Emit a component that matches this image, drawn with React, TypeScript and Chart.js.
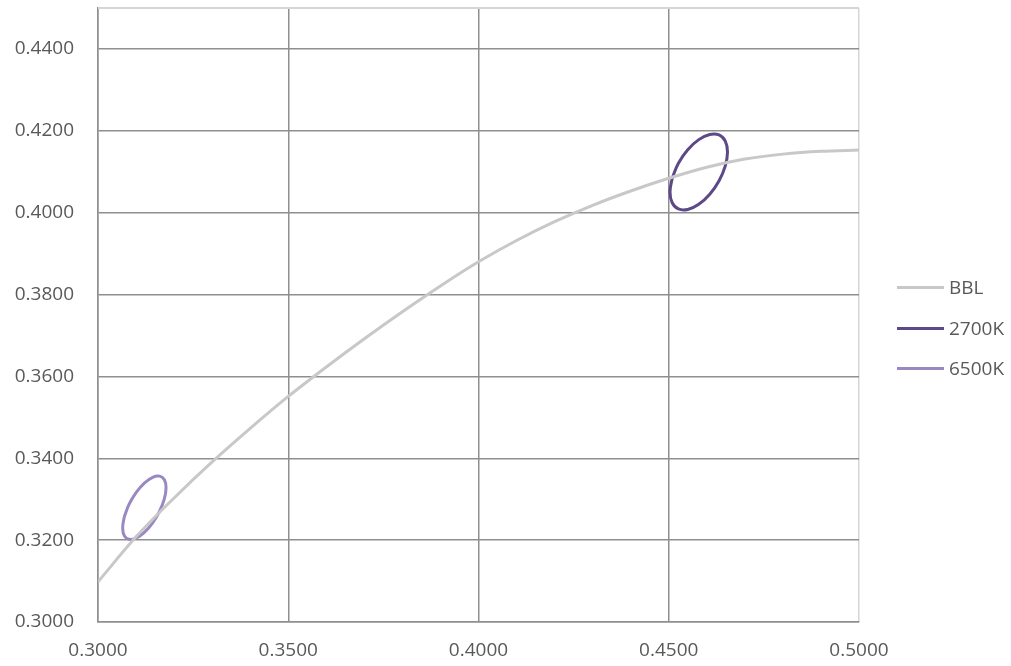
import React, { useEffect, useRef } from "react";
import { Chart, registerables } from "chart.js";

Chart.register(...registerables);

// Black-body locus (BBL)
const bblX = [
  0.3, 0.31, 0.32, 0.33, 0.34, 0.35, 0.36, 0.37, 0.38, 0.39, 0.4,
  0.41, 0.42, 0.43, 0.44, 0.45, 0.46, 0.47, 0.48, 0.49, 0.5,
];
const bblY = [
  0.3098, 0.3208, 0.3303, 0.3391, 0.3473, 0.3551, 0.3623, 0.3692, 0.3758, 0.3821, 0.388,
  0.3932, 0.3978, 0.4018, 0.4053, 0.4084, 0.4111, 0.4131, 0.4143, 0.415, 0.4153,
];

// 2700K ellipse outline (closed)
const k2700X = [
  0.45091, 0.45254, 0.45499, 0.45789, 0.46078, 0.46323, 0.46486, 0.46544, 0.46486,
  0.46323, 0.46078, 0.45789, 0.45499, 0.45254, 0.45091, 0.45033, 0.45091,
];
const k2700Y = [
  0.40845, 0.41207, 0.41537, 0.41784, 0.41911, 0.41898, 0.41747, 0.41483, 0.41144,
  0.40782, 0.40452, 0.40205, 0.40078, 0.4009, 0.40242, 0.40506, 0.40845,
];

// 6500K ellipse outline (closed)
const k6500X = [
  0.30691, 0.30815, 0.31, 0.31218, 0.31436, 0.31621, 0.31745, 0.31788, 0.31745,
  0.31621, 0.31436, 0.31218, 0.31, 0.30815, 0.30691, 0.30648, 0.30691,
];
const k6500Y = [
  0.32571, 0.32872, 0.33161, 0.33394, 0.33535, 0.33563, 0.33474, 0.3328, 0.33012,
  0.32711, 0.32422, 0.32189, 0.32048, 0.3202, 0.32109, 0.32303, 0.32571,
];

const seriesNames = ["BBL", "2700K", "6500K"];
const seriesColors = ["#c8c8c8", "#5d4888", "#9a88c0"];

const xTicks = [0.3, 0.35, 0.4, 0.45, 0.5];
const yTicks = [0.3, 0.32, 0.34, 0.36, 0.38, 0.4, 0.42, 0.44];

const FONT = { family: "'Open Sans', sans-serif", size: 19 };
const TEXT = "#595959";
const GRID = "#8f8f8f";
const FRAME = "#d6d6d6";

export default function App() {
  const ref = useRef<HTMLCanvasElement>(null);

  useEffect(() => {
    const toPts = (xs: number[], ys: number[]) => xs.map((x, i) => ({ x, y: ys[i] }));
    const series = [toPts(bblX, bblY), toPts(k2700X, k2700Y), toPts(k6500X, k6500Y)];

    const framePlugin = {
      id: "frame",
      beforeDatasetsDraw(chart: any) {
        const { ctx, chartArea } = chart;
        ctx.save();
        ctx.strokeStyle = FRAME;
        ctx.lineWidth = 2;
        ctx.beginPath();
        ctx.moveTo(chartArea.left, chartArea.top);
        ctx.lineTo(chartArea.right, chartArea.top);
        ctx.stroke();
        ctx.restore();
      },
    };

    const chart = new Chart(ref.current!, {
      type: "scatter",
      data: {
        datasets: series.map((data, i) => ({
          label: seriesNames[i],
          data,
          showLine: true,
          borderColor: seriesColors[i],
          backgroundColor: seriesColors[i],
          borderWidth: 3,
          pointRadius: 0,
          tension: 0.4,
          cubicInterpolationMode: i === 0 ? "monotone" : "default",
          fill: false,
        })),
      },
      options: {
        animation: false,
        responsive: false,
        layout: { padding: { top: 8, right: 152, left: 0, bottom: 0 } },
        plugins: { legend: { display: false }, tooltip: { enabled: false } },
        scales: {
          x: {
            type: "linear",
            min: 0.3,
            max: 0.5,
            afterBuildTicks: (s: any) => {
              s.ticks = xTicks.map((v) => ({ value: v }));
            },
            afterFit: (s: any) => {
              s.height = 44;
              s.paddingLeft = 0;
              s.paddingRight = 0;
            },
            ticks: {
              padding: 17,
              font: FONT,
              color: TEXT,
              callback: (v: any) => Number(v).toFixed(4),
            },
            grid: {
              drawTicks: false,
              lineWidth: 1.5,
              color: (c: any) => (c.tick && Math.abs(c.tick.value - 0.5) < 1e-9 ? FRAME : GRID),
            },
            border: { color: GRID, width: 1.5 },
          },
          y: {
            type: "linear",
            min: 0.3,
            max: 0.45,
            afterBuildTicks: (s: any) => {
              s.ticks = yTicks.map((v) => ({ value: v }));
            },
            afterFit: (s: any) => {
              s.width = 98;
              s.paddingTop = 0;
              s.paddingBottom = 0;
            },
            ticks: {
              padding: 24,
              font: FONT,
              color: TEXT,
              callback: (v: any) => Number(v).toFixed(4),
            },
            grid: { drawTicks: false, lineWidth: 1.5, color: GRID },
            border: { color: GRID, width: 1.5 },
          },
        },
      },
      plugins: [framePlugin],
    });
    return () => chart.destroy();
  }, []);

  const legendTops = [287, 328, 368];

  return (
    <div style={{ position: "absolute", left: 0, top: 0, width: 1011, height: 666, background: "#fff" }}>
      <canvas ref={ref} width={1011} height={666} style={{ width: 1011, height: 666, display: "block" }} />
      {seriesNames.map((name, i) => (
        <div
          key={name}
          style={{
            position: "absolute",
            left: 897,
            top: legendTops[i] - 12,
            height: 24,
            display: "flex",
            alignItems: "center",
            fontFamily: "'Open Sans', sans-serif",
            fontSize: 19,
            color: TEXT,
            lineHeight: "24px",
            whiteSpace: "nowrap",
          }}
        >
          <span style={{ display: "inline-block", width: 47, height: 3, background: seriesColors[i], marginRight: 5 }} />
          <span>{name}</span>
        </div>
      ))}
    </div>
  );
}
